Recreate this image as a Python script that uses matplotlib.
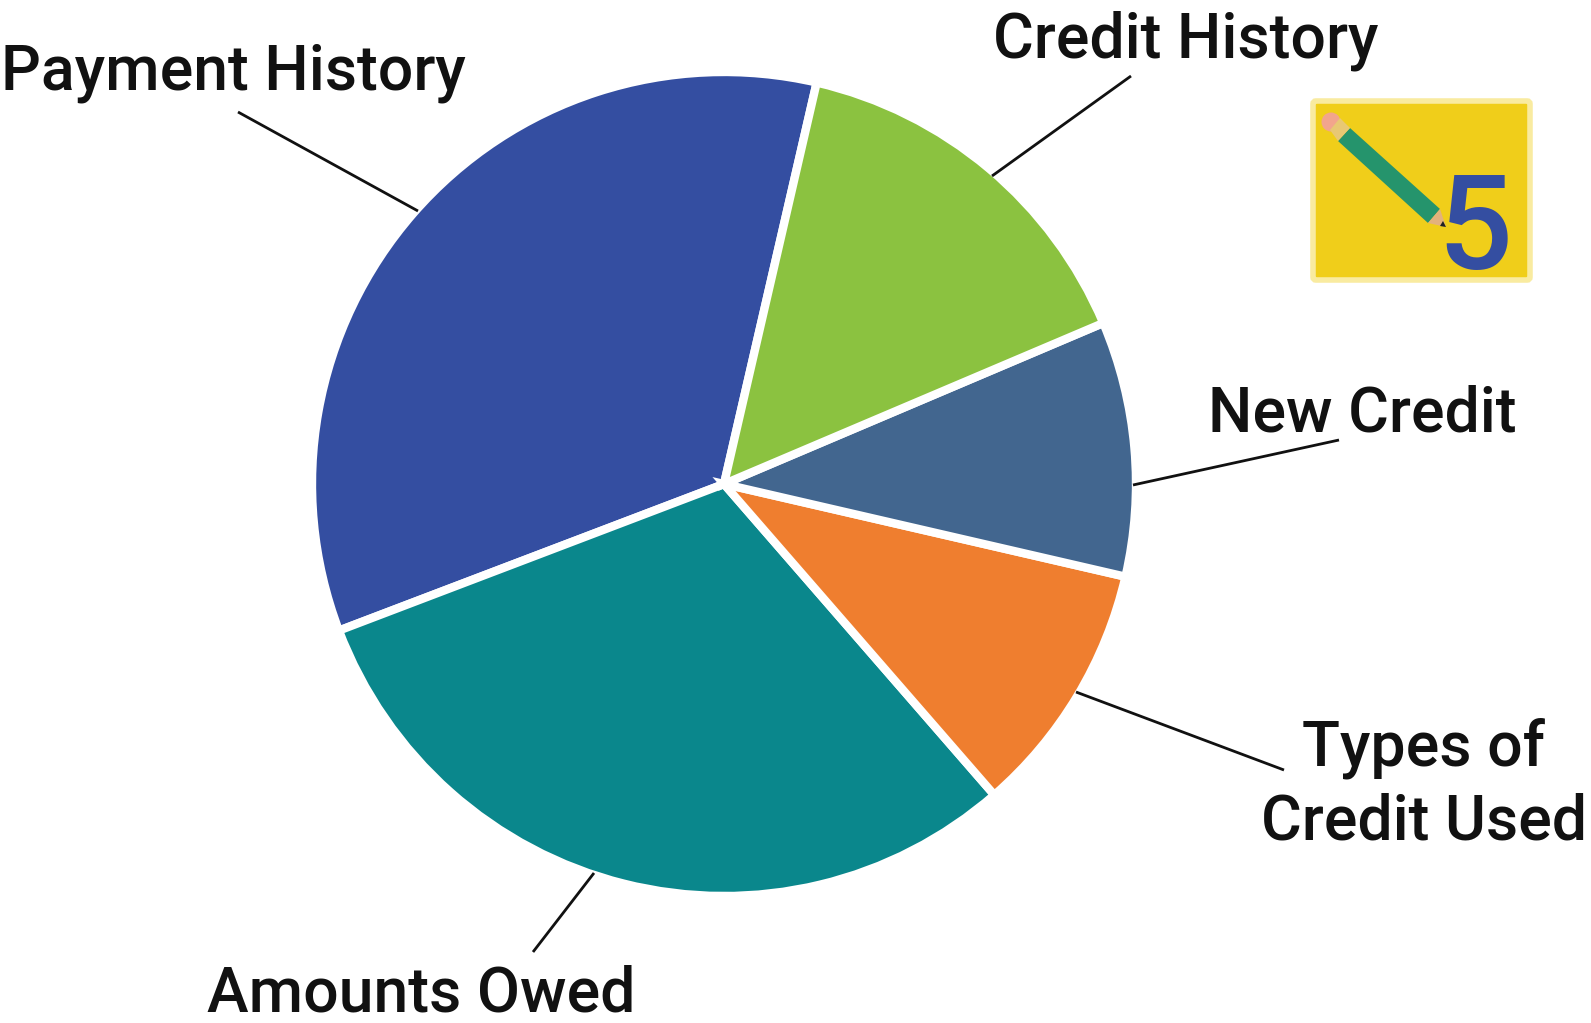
import matplotlib
matplotlib.use("Agg")
import matplotlib.pyplot as plt
from matplotlib.patches import Polygon, FancyBboxPatch, Circle

categories = ["Payment History", "Amounts Owed", "Types of\nCredit Used", "New Credit", "Credit History"]
shares = [34.4, 30.6, 10, 10, 15]
colors = ["#344EA1", "#0A878C", "#EF7E2F", "#42668F", "#8BC240"]

plt.rcParams["font.family"] = ["Roboto", "DejaVu Sans"]

fig = plt.figure(figsize=(15.91, 10.23), dpi=100)
# axes in image pixels, y going down, so the pie angles are mirrored
ax = fig.add_axes([0, 0, 1, 1])

wedges, _ = ax.pie(shares, colors=colors, startangle=-77, counterclock=False,
                   center=(724, 484), radius=412, frame=True,
                   wedgeprops=dict(edgecolor="white", linewidth=6))
ax.set_xlim(0, 1591)
ax.set_ylim(1023, 0)
ax.set_aspect("equal")
ax.axis("off")

# label text position, then leader line ends
label_pos = [(233, 73), (421, 995), (1424, 785), (1362, 415), (1186, 41)]
leaders = [((238, 112), (418, 211)), ((594, 873), (533, 952)), ((1076, 692), (1284, 770)),
           ((1133, 485), (1339, 440)), ((992, 176), (1131, 76))]

for name, pos, (a, b) in zip(categories, label_pos, leaders):
    ax.plot([a[0], b[0]], [a[1], b[1]], color="#111111", lw=2, solid_capstyle="butt")
    ax.text(pos[0], pos[1], name, ha="center", va="center", fontsize=45,
            fontweight=500, color="#111111", linespacing=1.29)

# badge with pencil and 5
ax.add_patch(FancyBboxPatch((1313, 101), 217, 179, boxstyle="round,pad=0,rounding_size=3",
                            fc="#F0CE1A", ec="#F9EBA0", lw=4))
ax.add_patch(Polygon([(1350, 128), (1440, 209), (1428, 223), (1338, 141)], fc="#25946C", ec="none"))
ax.add_patch(Circle((1331, 122), 9.5, fc="#F2A58C", ec="none"))
ax.add_patch(Polygon([(1340, 118), (1350, 128), (1338, 141), (1330, 130)], fc="#E8C874", ec="none"))
ax.add_patch(Polygon([(1440, 209), (1446, 227), (1428, 223)], fc="#E3B27C", ec="none"))
ax.add_patch(Polygon([(1443, 221), (1446, 227), (1440, 226)], fc="#222222", ec="none"))
ax.text(1475, 233, "5", ha="center", va="center", fontsize=95, fontweight=500, color="#344EA1")

fig.savefig("out.png", dpi=100, facecolor="white")
